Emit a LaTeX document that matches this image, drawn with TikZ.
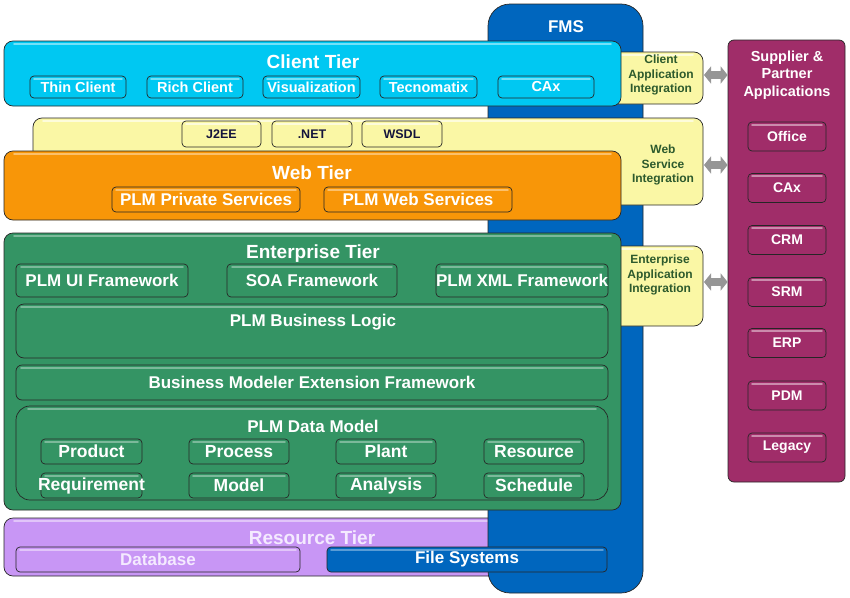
\documentclass[tikz,border=0pt]{standalone}
\usepackage{fontspec}
\setmainfont{Liberation Sans}
\usetikzlibrary{arrows.meta}
\definecolor{clientc}{RGB}{0,200,242}
\definecolor{yellowc}{RGB}{250,247,165}
\definecolor{orangec}{RGB}{248,150,8}
\definecolor{greenc}{RGB}{52,148,100}
\definecolor{fmsc}{RGB}{0,102,190}
\definecolor{purplec}{RGB}{200,150,245}
\definecolor{magc}{RGB}{160,45,105}
\definecolor{arrowc}{RGB}{150,150,150}
\definecolor{integc}{RGB}{45,90,45}
\definecolor{navyc}{RGB}{20,20,60}
\definecolor{lavc}{RGB}{244,234,255}
\newcommand\myfs[2]{\fontsize{#1}{#2}\selectfont}
\begin{document}
\begin{tikzpicture}[x=1pt,y=-1pt,
  box/.style={draw=black!85, line width=0.7pt, inner sep=0pt, font=\bfseries, text=white},
  tierbox/.style={box, rounded corners=9pt},
  smallbox/.style={box, rounded corners=4pt},
  hl/.style 2 args={path picture={\draw[#1, line width=1.8pt, line cap=round]
     ([shift={(#2,-2.6pt)}]path picture bounding box.north west) --
     ([shift={(-#2,-2.6pt)}]path picture bounding box.north east);}},
  cli/.style={smallbox, fill=clientc, hl={white!45!clientc}{4pt}, font=\bfseries\myfs{14.5}{16}},
  ws/.style={smallbox, fill=yellowc, hl={white!60!yellowc}{4pt}, text=navyc, font=\bfseries\myfs{12.5}{14}},
  web/.style={smallbox, fill=orangec, hl={white!40!orangec}{4pt}, font=\bfseries\myfs{17}{19}},
  ent/.style={smallbox, fill=greenc, hl={white!35!greenc}{5pt}, font=\bfseries\myfs{17}{19}},
  dm/.style={smallbox, fill=greenc, hl={white!35!greenc}{4pt}, font=\bfseries\myfs{17.5}{19}},
  sp/.style={smallbox, fill=magc, hl={white!45!magc}{4pt}, minimum width=78, minimum height=29, font=\bfseries\myfs{14}{16}},
  title/.style={inner sep=0pt, font=\bfseries\myfs{19}{21}, text=white},
  integ/.style={inner sep=0pt, align=center, font=\bfseries\myfs{12}{14.5}, text=integc},
  arr/.style={draw=arrowc, line width=8pt, {Triangle[length=7pt,width=17pt]}-{Triangle[length=7pt,width=17pt]}}
]
\useasboundingbox (0,0) rectangle (850,597);

% Resource tier (behind FMS)
\node[tierbox, fill=purplec, hl={white!45!purplec}{10pt}, minimum width=516, minimum height=58] (rt) at (262,547) {};

% FMS column
\node[box, rounded corners=22pt, fill=fmsc, minimum width=155, minimum height=589] (fms) at (565.5,298.5) {};
\node[title, font=\bfseries\myfs{17}{19}] (fmst) at (566,27) {FMS};

% integration boxes
\node[tierbox, fill=yellowc, hl={white!60!yellowc}{10pt}, minimum width=100, minimum height=52] (cai) at (653,78) {};
\node[tierbox, fill=yellowc, hl={white!60!yellowc}{10pt}, minimum width=100, minimum height=80] (eai) at (653,286) {};

% Client tier
\node[tierbox, fill=clientc, hl={white!45!clientc}{10pt}, minimum width=617, minimum height=65] (ct) at (312.5,73.5) {};
\node[title] (ctt) at (313,62) {Client Tier};
\node[cli, minimum width=96, minimum height=22] (thin) at (78,87) {Thin Client};
\node[cli, minimum width=96, minimum height=22] (rich) at (195,87) {Rich Client};
\node[cli, minimum width=97, minimum height=22] (vis) at (311.5,87) {Visualization};
\node[cli, minimum width=97, minimum height=22] (tec) at (428.5,87) {Tecnomatix};
\node[cli, minimum width=96, minimum height=22] (cax) at (546,87) {CAx};

% Web service band
\node[tierbox, fill=yellowc, hl={white!60!yellowc}{10pt}, minimum width=670, minimum height=87] (wsb) at (368,161.5) {};
\node[ws, minimum width=79, minimum height=26] (j2ee) at (221.5,134) {J2EE};
\node[ws, minimum width=80, minimum height=26] (net) at (312,134) {.NET};
\node[ws, minimum width=80, minimum height=26] (wsdl) at (402,134) {WSDL};

% Web tier
\node[tierbox, fill=orangec, hl={white!40!orangec}{10pt}, minimum width=617, minimum height=69] (wt) at (312.5,185.5) {};
\node[title] (wtt) at (312,173) {Web Tier};
\node[web, minimum width=188, minimum height=25] (priv) at (206,199.5) {PLM Private Services};
\node[web, minimum width=188, minimum height=25] (pws) at (418,199.5) {PLM Web Services};

% Enterprise tier
\node[tierbox, fill=greenc, hl={white!35!greenc}{10pt}, minimum width=617, minimum height=277] (et) at (312.5,371.5) {};
\node[title] (ett) at (313,254) {Enterprise Tier};
\node[ent, minimum width=172, minimum height=33] (uif) at (102,280.5) {PLM UI Framework};
\node[ent, minimum width=170, minimum height=33] (soa) at (312,280.5) {SOA Framework};
\node[ent, minimum width=172, minimum height=33, label={[inner sep=0pt, text=white, font=\bfseries\myfs{17}{19}]center:PLM XML Framework}] (xml) at (522,280.5) {};
\node[ent, rounded corners=8pt, minimum width=592, minimum height=54] (bl) at (312,331) {};
\node[inner sep=0pt, text=white, font=\bfseries\myfs{17}{19}] (blt) at (313,322) {PLM Business Logic};
\node[ent, rounded corners=6pt, minimum width=592, minimum height=35] (bmef) at (312,382.5) {Business Modeler Extension Framework};
\node[ent, rounded corners=14pt, hl={white!35!greenc}{12pt}, minimum width=592, minimum height=94] (dmod) at (312,453) {};
\node[inner sep=0pt, text=white, font=\bfseries\myfs{17}{19}] (dmt) at (313,426) {PLM Data Model};
\node[dm, minimum width=101, minimum height=25] (prod) at (91.5,451.5) {Product};
\node[dm, minimum width=100, minimum height=25] (proc) at (239,451.5) {Process};
\node[dm, minimum width=100, minimum height=25] (plant) at (386,451.5) {Plant};
\node[dm, minimum width=100, minimum height=25] (res) at (534,451.5) {Resource};
\node[dm, minimum width=101, minimum height=25, label={[inner sep=0pt, text=white, font=\bfseries\myfs{17.5}{19}]center:Requirement}] (req) at (91.5,485.5) {};
\node[dm, minimum width=100, minimum height=25] (model) at (239,485.5) {Model};
\node[dm, minimum width=100, minimum height=25] (anal) at (386,485.5) {Analysis};
\node[dm, minimum width=100, minimum height=25] (sched) at (534,485.5) {Schedule};

% Resource tier contents
\node[title, text=lavc] (rtt) at (312,538) {Resource Tier};
\node[smallbox, fill=purplec, hl={white!45!purplec}{4pt}, text=lavc, font=\bfseries\myfs{17}{19}, minimum width=284, minimum height=25] (db) at (158,559.5) {Database};
\node[smallbox, fill=fmsc, hl={white!35!fmsc}{4pt}, font=\bfseries\myfs{17}{19}, minimum width=280, minimum height=25] (fs) at (467,559.5) {File Systems};

% Integration texts
\node[integ] (cait) at (661,75) {Client\\Application\\Integration};
\node[integ] (wsit) at (663,165) {Web\\Service\\Integration};
\node[integ] (eait) at (660,275) {Enterprise\\Application\\Integration};

% Supplier & partner applications
\node[box, rounded corners=6pt, fill=magc, minimum width=117, minimum height=442] (sup) at (786.5,261) {};
\node[inner sep=0pt, align=center, text=white, font=\bfseries\myfs{14.5}{17.5}] (supt) at (787,75) {Supplier \&\\Partner\\Applications};
\node[sp] (office) at (787,136.5) {Office};
\node[sp] (scax) at (787,188) {CAx};
\node[sp] (crm) at (787,240) {CRM};
\node[sp] (srm) at (787,292) {SRM};
\node[sp] (erp) at (787,343) {ERP};
\node[sp] (pdm) at (787,395.5) {PDM};
\node[sp] (legacy) at (787,447.5) {Legacy};

% arrows
\coordinate (a1) at (704,75);
\coordinate (a2) at (704,165);
\coordinate (a3) at (704,282);
\draw[arr] (a1) -- (a1 -| sup.west);
\draw[arr] (a2) -- (a2 -| sup.west);
\draw[arr] (a3) -- (a3 -| sup.west);
\end{tikzpicture}
\end{document}
